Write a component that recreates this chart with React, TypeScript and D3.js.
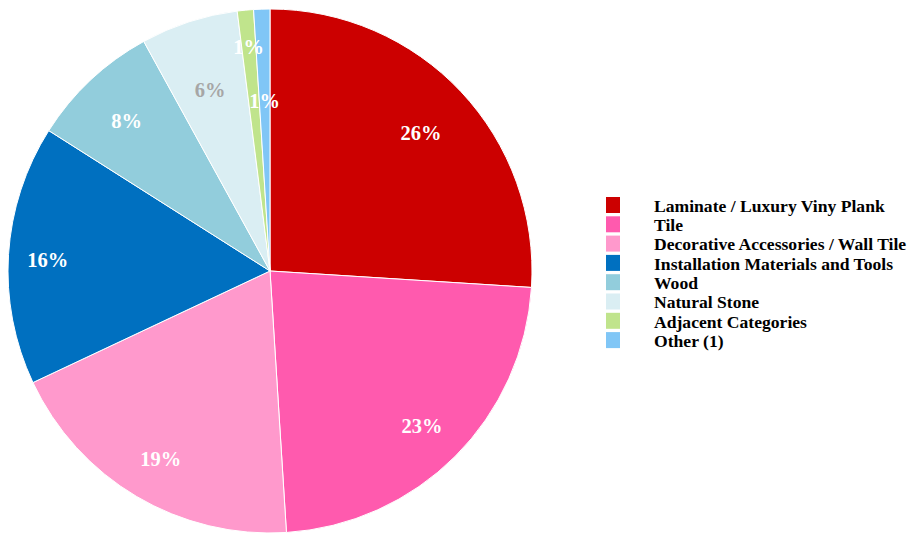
import * as d3 from "d3"
import * as React from "react"

const categories = [
  "Laminate / Luxury Viny Plank",
  "Tile",
  "Decorative Accessories / Wall Tile",
  "Installation Materials and Tools",
  "Wood",
  "Natural Stone",
  "Adjacent Categories",
  "Other (1)",
]
const shares = [26, 23, 19, 16, 8, 6, 1, 1]
const colors = ["#cc0000", "#ff5aae", "#ff99cc", "#0070c0", "#92cddc", "#daeef3", "#c0e48c", "#80c6f6"]
const labelColors = ["#fff", "#fff", "#fff", "#fff", "#fff", "#a6a6a6", "#fff", "#fff"]
// label distance from centre as a fraction of the radius
const labelRadius = [0.79, 0.82, 0.82, 0.85, 0.8, 0.74, 0.87, 0.66]

const W = 912
const H = 533
const cx = 270
const cy = 271
const R = 262

export default function App() {
  const pie = d3.pie<number>().sort(null).value(d => d)
  const arcs = pie(shares)
  const arc = d3.arc<d3.PieArcDatum<number>>().innerRadius(0).outerRadius(R)

  return (
    <svg width={W} height={H} style={{ position: "absolute", left: 0, top: 0 }}
      fontFamily="'Liberation Serif', 'Times New Roman', serif" fontWeight="bold">
      <g transform={`translate(${cx},${cy})`}>
        {arcs.map((a, i) => (
          <path key={i} d={arc(a)!} fill={colors[i]} stroke="#fff" strokeWidth={1} />
        ))}
        {arcs.map((a, i) => {
          const mid = (a.startAngle + a.endAngle) / 2
          const r = R * labelRadius[i]
          return (
            <text key={i} x={Math.sin(mid) * r} y={-Math.cos(mid) * r} dy="0.5em"
              textAnchor="middle" fontSize={20.5} fill={labelColors[i]}>
              {shares[i]}%
            </text>
          )
        })}
      </g>
      <g transform="translate(606,197)">
        {categories.map((c, i) => (
          <g key={c} transform={`translate(0,${i * 19.3})`}>
            <rect width={14} height={16} fill={colors[i]} />
            <text x={48} y={8} dy="0.38em" fontSize={17.6} fill="#000">{c}</text>
          </g>
        ))}
      </g>
    </svg>
  )
}
